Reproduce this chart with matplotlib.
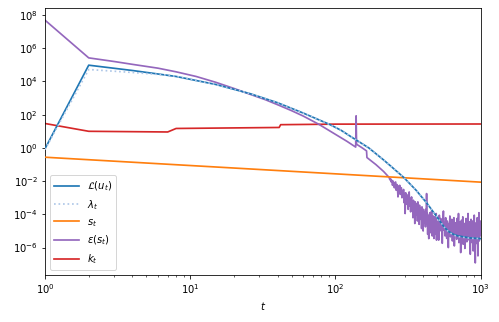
import numpy as np
from matplotlib import pyplot as plt

# L(u_t): loss (t, log10 value)
loss_t = [1, 2, 4, 8, 15, 26, 40, 60, 92, 110, 130, 170, 216, 250, 296, 360, 429, 500, 560, 600, 650, 700, 850, 1000]
loss_log = [-0.05, 4.98, 4.66, 4.30, 3.82, 3.26, 2.72, 2.10, 1.40, 1.05, 0.64, 0.0, -0.74, -1.22, -1.78,
            -2.55, -3.35, -4.15, -4.75, -5.02, -5.20, -5.30, -5.42, -5.46]

# lambda_t
lam_t = [1, 2, 4, 7, 8, 15, 26, 40, 60, 92, 110, 130, 170, 216, 250, 296, 360, 429, 500, 560, 600, 650, 700, 850, 1000]
lam_log = [-0.1, 4.72, 4.54, 4.38, 4.31, 3.82, 3.26, 2.72, 2.10, 1.40, 1.05, 0.64, 0.0, -0.74, -1.22, -1.78,
           -2.55, -3.35, -4.15, -4.75, -5.04, -5.24, -5.34, -5.44, -5.46]

# s_t
s_t = [1, 10, 100, 1000]
s_v = [0.275, 0.087, 0.0275, 0.0087]

# k_t
k_t = [1, 2, 7, 8, 41, 42, 100, 1000]
k_v = [29.5, 10.0, 9.1, 14.8, 17.0, 25.0, 27.0, 27.5]

# eps(s_t): smooth part, spike, then noisy tail
eps_t = [1, 2, 3, 4, 6, 8, 11, 15, 20, 26, 33, 40, 50, 60, 77, 100, 120, 138, 139, 140, 152, 164, 165,
         190, 215, 233]
eps_log = [7.69, 5.42, 5.20, 5.03, 4.80, 4.58, 4.30, 3.95, 3.58, 3.22, 2.90, 2.60, 2.24, 1.92, 1.42, 0.82,
           0.40, 0.05, 1.93, 0.22, 0.02, -0.18, -0.58, -1.00, -1.42, -1.75]
tail_t = np.concatenate([np.arange(235, 500.1, 2.5), np.arange(505, 1001, 5)])
tail_log = [
    -1.80, -1.92, -1.85, -2.05, -1.95, -2.25, -2.00, -2.15, -2.40, -2.10,
    -2.05, -2.55, -2.20, -2.35, -2.95, -2.30, -2.50, -2.25, -2.80, -2.45,
    -2.40, -3.00, -2.60, -2.85, -2.50, -3.30, -2.75, -3.95, -2.70, -3.15,
    -2.80, -3.40, -2.95, -3.70, -3.10, -2.65, -3.50, -3.05, -3.85, -3.20,
    -2.95, -3.60, -3.30, -4.20, -3.15, -3.75, -3.45, -4.55, -3.25, -3.85,
    -3.35, -4.05, -3.55, -4.40, -3.25, -3.90, -3.70, -4.60, -3.45, -4.10,
    -3.60, -4.30, -3.80, -4.85, -3.55, -4.15, -3.95, -5.00, -3.70, -4.40,
    -3.85, -4.50, -4.00, -4.75, -3.70, -4.35, -2.75, -4.55, -3.95, -5.20,
    -4.05, -4.70, -5.46, -4.20, -4.85, -3.90, -4.60, -5.10, -4.15, -4.75,
    -3.80, -4.55, -5.30, -4.30, -4.95, -4.10, -4.70, -5.45, -4.25, -4.80,
    -4.15, -5.20, -4.40, -4.90, -3.95, -5.55, -4.50,
    -4.85, -4.40, -5.55, -4.05, -4.60, -4.25,
    -5.00, -4.30, -5.74, -4.45, -3.80, -4.95, -4.50, -5.30, -4.20, -4.75,
    -5.45, -4.40, -4.85, -6.00, -4.55, -4.95, -4.10, -5.35, -4.65, -5.10,
    -4.30, -5.60, -4.75, -5.05, -4.20, -5.90, -4.85, -4.50, -5.25, -4.70,
    -5.50, -4.25, -4.95, -5.15, -3.95, -5.70, -4.80, -5.30, -4.45, -6.30,
    -4.90, -4.35, -5.45, -5.00, -4.15, -5.80, -4.70, -5.20, -4.55, -6.05,
    -4.85, -5.35, -4.25, -5.05, -5.65, -4.60, -4.95, -3.95, -5.40, -4.75,
    -5.55, -4.45, -5.10, -6.40, -4.80, -4.30, -5.25, -4.90, -5.70, -4.40,
    -5.05, -6.20, -4.65, -5.30, -4.05, -5.50, -4.85, -6.92, -4.70, -5.15,
    -4.50, -5.75, -4.95, -4.20, -5.40, -6.50, -4.75, -5.05, -3.90, -5.60,
    -4.85, -5.30, -4.40, -5.20,
]

eps_all_t = np.concatenate([eps_t, tail_t])
eps_all_v = 10.0 ** np.concatenate([eps_log, tail_log])

fig = plt.figure(figsize=(499 / 72, 322 / 72), dpi=72)
ax = fig.add_axes([0.0902, 0.146, 0.963 - 0.0902, 0.974 - 0.146])

lw = 1.7
ax.plot(loss_t, 10.0 ** np.array(loss_log), color='tab:blue', lw=lw, label=r'$\mathcal{L}(u_t)$', zorder=3)
ax.plot(lam_t, 10.0 ** np.array(lam_log), color='#aec7e8', lw=lw, linestyle=':', label=r'$\lambda_t$', zorder=3.1)
ax.plot(s_t, s_v, color='tab:orange', lw=lw, label=r'$s_t$', zorder=2.6)
ax.plot(eps_all_t, eps_all_v, color='tab:purple', lw=lw, label=r'$\varepsilon(s_t)$', zorder=2.5)
ax.plot(k_t, k_v, color='tab:red', lw=lw, label=r'$k_t$', zorder=2)

ax.set_xscale('log')
ax.set_yscale('log')
ax.set_xlim(1, 1000)
ax.set_ylim(10 ** -7.65, 10 ** 8.4)
ax.set_xlabel('$t$')
ax.legend(loc='lower left', handlelength=2.5)

fig.savefig('out.png', dpi=72)
